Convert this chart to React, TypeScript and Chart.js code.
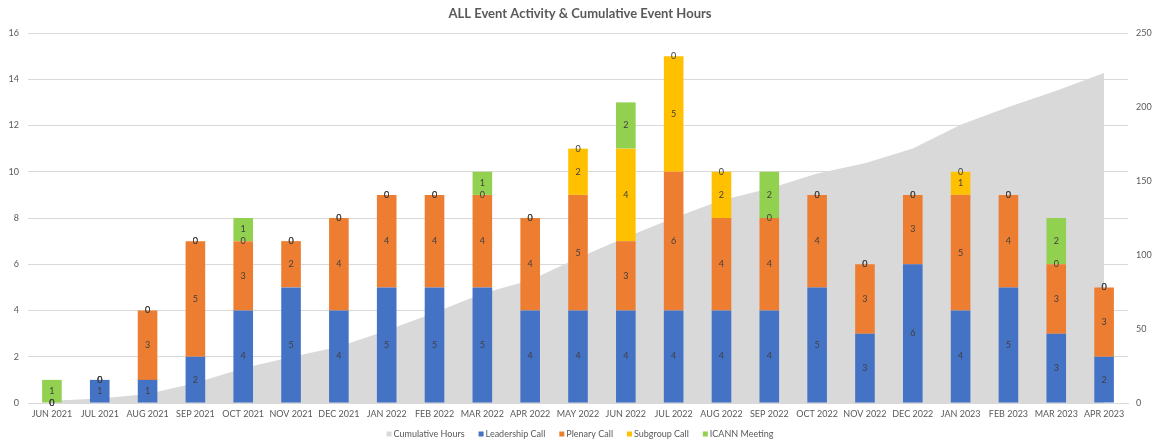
import React, { useEffect, useRef } from "react";
import { Chart, registerables } from "chart.js";

Chart.register(...registerables);

const chartTitle = "ALL Event Activity & Cumulative Event Hours";
const categories = [
  "JUN 2021", "JUL 2021", "AUG 2021", "SEP 2021", "OCT 2021", "NOV 2021", "DEC 2021",
  "JAN 2022", "FEB 2022", "MAR 2022", "APR 2022", "MAY 2022", "JUN 2022", "JUL 2022",
  "AUG 2022", "SEP 2022", "OCT 2022", "NOV 2022", "DEC 2022", "JAN 2023", "FEB 2023",
  "MAR 2023", "APR 2023",
];
const leadershipCall = [0, 1, 1, 2, 4, 5, 4, 5, 5, 5, 4, 4, 4, 4, 4, 4, 5, 3, 6, 4, 5, 3, 2];
const plenaryCall = [0, 0, 3, 5, 3, 2, 4, 4, 4, 4, 4, 5, 3, 6, 4, 4, 4, 3, 3, 5, 4, 3, 3];
const subgroupCall = [0, 0, 0, 0, 0, 0, 0, 0, 0, 0, 0, 2, 4, 5, 2, 0, 0, 0, 0, 1, 0, 0, 0];
const icannMeeting = [1, 0, 0, 0, 1, 0, 0, 0, 0, 1, 0, 0, 2, 0, 0, 2, 0, 0, 0, 0, 0, 2, 0];
const cumulativeHours = [1.5, 3, 6, 13.5, 23.5, 31, 38, 49, 61, 74, 83, 98, 112, 125, 137, 145, 155, 162, 172, 188, 200, 211, 223];
const leftTicks = { min: 0, max: 16, step: 2 };
const rightTicks = { min: 0, max: 250, step: 50 };

const FONT = "Lato, 'Open Sans', sans-serif";
const TEXT = "#595959";

const legendItems = [
  { label: "Cumulative Hours", color: "#D9D9D9" },
  { label: "Leadership Call", color: "#4472C4" },
  { label: "Plenary Call", color: "#ED7D31" },
  { label: "Subgroup Call", color: "#FFC000" },
  { label: "ICANN Meeting", color: "#92D050" },
];

const decorPlugin = {
  id: "decor",
  afterDatasetsDraw(chart: any) {
    const ctx = chart.ctx;
    ctx.save();
    ctx.font = `9px ${FONT}`;
    ctx.fillStyle = "#404040";
    ctx.textAlign = "center";
    ctx.textBaseline = "middle";
    chart.data.datasets.forEach((ds: any, di: number) => {
      if (ds.type === "line") return;
      const meta = chart.getDatasetMeta(di);
      meta.data.forEach((el: any, i: number) => {
        const v = ds.data[i];
        if (v === null || v === undefined) return;
        const y = (el.y + el.base) / 2;
        ctx.fillText(String(v), el.x, y);
      });
    });
    ctx.restore();
  },
  afterDraw(chart: any) {
    const ctx = chart.ctx;
    const ca = chart.chartArea;
    const cx = (ca.left + ca.right) / 2 + 2;
    ctx.save();
    // title
    ctx.font = `bold 13px ${FONT}`;
    ctx.fillStyle = TEXT;
    ctx.textAlign = "center";
    ctx.textBaseline = "middle";
    ctx.fillText(chartTitle, cx, 14);
    // legend
    ctx.font = `9px ${FONT}`;
    const box = 5;
    const gap = 2;
    const itemGap = 14;
    const widths = legendItems.map((it) => box + gap + ctx.measureText(it.label).width);
    const total = widths.reduce((a, b) => a + b, 0) + itemGap * (legendItems.length - 1);
    let x = cx - total / 2;
    const y = 434;
    ctx.textAlign = "left";
    legendItems.forEach((it, i) => {
      ctx.fillStyle = it.color;
      ctx.fillRect(x, y - box / 2, box, box);
      ctx.fillStyle = TEXT;
      ctx.fillText(it.label, x + box + gap, y);
      x += widths[i] + itemGap;
    });
    ctx.restore();
  },
};

export default function App() {
  const ref = useRef<HTMLCanvasElement | null>(null);
  useEffect(() => {
    if (!ref.current) return;
    const barCommon = {
      type: "bar" as const,
      yAxisID: "y",
      stack: "events",
      order: 1,
      borderWidth: 0,
      barPercentage: 0.41,
      categoryPercentage: 1,
    };
    const chart = new Chart(ref.current, {
      type: "bar",
      data: {
        labels: categories,
        datasets: [
          {
            type: "line",
            label: "Cumulative Hours",
            data: cumulativeHours,
            yAxisID: "y1",
            fill: "origin",
            backgroundColor: "#D9D9D9",
            borderColor: "rgba(0,0,0,0)",
            borderWidth: 0,
            pointRadius: 0,
            tension: 0,
            order: 10,
          } as any,
          { ...barCommon, label: "Leadership Call", data: leadershipCall, backgroundColor: "#4472C4" },
          { ...barCommon, label: "Plenary Call", data: plenaryCall, backgroundColor: "#ED7D31" },
          { ...barCommon, label: "Subgroup Call", data: subgroupCall, backgroundColor: "#FFC000" },
          { ...barCommon, label: "ICANN Meeting", data: icannMeeting, backgroundColor: "#92D050" },
        ],
      },
      options: {
        responsive: false,
        animation: false,
        layout: { padding: { top: 33, bottom: 18, left: 0, right: 0 } },
        plugins: {
          legend: { display: false },
          title: { display: false },
          tooltip: { enabled: false },
        },
        scales: {
          x: {
            stacked: true,
            offset: true,
            grid: { display: false, drawTicks: false },
            border: { display: true, color: "#D9D9D9" },
            ticks: {
              color: TEXT,
              font: { family: FONT, size: 9 },
              padding: 6,
              autoSkip: false,
              maxRotation: 0,
              minRotation: 0,
            },
            afterFit: (s: any) => { s.height = 22; },
          },
          y: {
            stacked: true,
            position: "left",
            min: leftTicks.min,
            max: leftTicks.max,
            ticks: { stepSize: leftTicks.step, color: TEXT, font: { family: FONT, size: 9 }, padding: 9 },
            grid: { color: "#D9D9D9", drawTicks: false },
            border: { display: false },
            afterFit: (s: any) => { s.width = 28; },
          },
          y1: {
            position: "right",
            min: rightTicks.min,
            max: rightTicks.max,
            ticks: { stepSize: rightTicks.step, color: TEXT, font: { family: FONT, size: 9 }, padding: 8 },
            grid: { display: false, drawTicks: false },
            border: { display: false },
            afterFit: (s: any) => { s.width = 28; },
          },
        },
      } as any,
      plugins: [decorPlugin],
    });
    return () => chart.destroy();
  }, []);
  return (
    <div style={{ position: "fixed", left: 0, top: 0, width: 1156, height: 443, background: "#fff" }}>
      <canvas ref={ref} width={1156} height={443} style={{ display: "block" }} />
    </div>
  );
}
